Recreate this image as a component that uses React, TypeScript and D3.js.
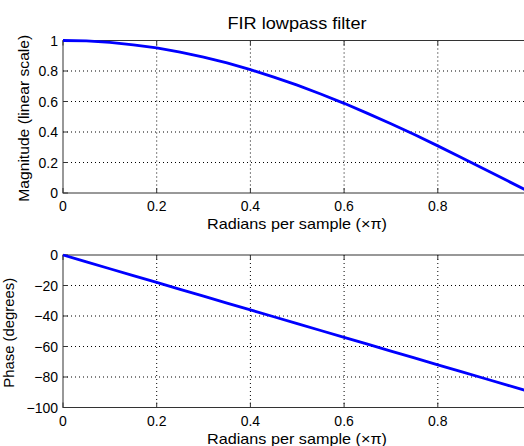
import React from "react";
import * as d3 from "d3";

const freq = [0, 0.05, 0.1, 0.15, 0.2, 0.25, 0.3, 0.35, 0.4, 0.45, 0.5, 0.55, 0.6, 0.65, 0.7, 0.75, 0.8, 0.85, 0.9, 0.95, 1.0];
const magnitude = [1, 0.997, 0.988, 0.972, 0.951, 0.924, 0.891, 0.853, 0.809, 0.76, 0.707, 0.649, 0.588, 0.522, 0.454, 0.383, 0.309, 0.233, 0.156, 0.078, 0.0];
const phase = [0, -4.5, -9, -13.5, -18, -22.5, -27, -31.5, -36, -40.5, -45, -49.5, -54, -58.5, -63, -67.5, -72, -76.5, -81, -85.5, -90];
const xTicks = [0, 0.2, 0.4, 0.6, 0.8];
const magTicks = [0, 0.2, 0.4, 0.6, 0.8, 1];
const phaseTicks = [-100, -80, -60, -40, -20, 0];

const W = 524, H = 446;
const left = 63, right = 531.5;
const FONT = "'Liberation Sans', Arial, Helvetica, sans-serif";

function Panel({ top, bottom, yDomain, yTicks, values, yLabel, yLabelX, yLabelLen, fmt }) {
  const x = d3.scaleLinear().domain([0, 1]).range([left, right]);
  const y = d3.scaleLinear().domain(yDomain).range([bottom, top]);
  const line = d3.line().x((d) => x(d[0])).y((d) => y(d[1]));
  const pts = freq.map((f, i) => [f, values[i]]);
  return (
    <g>
      {xTicks.filter((t) => t > 0).map((t) => (
        <line key={"gx" + t} x1={x(t)} x2={x(t)} y1={top} y2={bottom} stroke="#000" strokeWidth={1} strokeDasharray="1,3" />
      ))}
      {yTicks.filter((t) => t !== yDomain[0] && t !== yDomain[1]).map((t) => (
        <line key={"gy" + t} x1={left} x2={right} y1={y(t)} y2={y(t)} stroke="#000" strokeWidth={1} strokeDasharray="1,3" />
      ))}
      <rect x={left} y={top} width={right - left} height={bottom - top} fill="none" stroke="#333" strokeWidth={1} />
      {xTicks.map((t) => (
        <g key={"tx" + t}>
          <line x1={x(t)} x2={x(t)} y1={bottom} y2={bottom - 5} stroke="#333" />
          <line x1={x(t)} x2={x(t)} y1={top} y2={top + 5} stroke="#333" />
          <text x={x(t)} y={bottom + 18} textAnchor="middle" fontSize={14} fontFamily={FONT} fill="#000">{t === 0 ? "0" : d3.format(".1f")(t)}</text>
        </g>
      ))}
      {yTicks.map((t) => (
        <g key={"ty" + t}>
          <line x1={left} x2={left + 5} y1={y(t)} y2={y(t)} stroke="#333" />
          <text x={left - 5} y={y(t) + 5} textAnchor="end" fontSize={14} fontFamily={FONT} fill="#000">{fmt(t)}</text>
        </g>
      ))}
      <path d={line(pts) || ""} fill="none" stroke="#0000ff" strokeWidth={2.8} />
      <text x={297} y={bottom + 36} textAnchor="middle" fontSize={15} fontFamily={FONT} fill="#000" textLength={180} lengthAdjust="spacingAndGlyphs">Radians per sample (×π)</text>
      <text transform={`translate(${yLabelX},${(top + bottom) / 2 + 1.5}) rotate(-90)`} textAnchor="middle" fontSize={15.5} fontFamily={FONT} fill="#000" textLength={yLabelLen} lengthAdjust="spacingAndGlyphs">{yLabel}</text>
    </g>
  );
}

export default function App() {
  return (
    <svg width={W} height={H} style={{ position: "absolute", left: 0, top: 0, background: "#fff" }}>
      <rect width={W} height={H} fill="#fff" />
      <text x={297} y={28.5} textAnchor="middle" fontSize={16.5} fontFamily={FONT} fill="#000" textLength={139} lengthAdjust="spacingAndGlyphs">FIR lowpass filter</text>
      <Panel top={40.5} bottom={193} yDomain={[0, 1]} yTicks={magTicks} values={magnitude} yLabel="Magnitude (linear scale)" yLabelX={29} yLabelLen={167} fmt={(t) => (t === 0 || t === 1 ? String(t) : d3.format(".1f")(t))} />
      <Panel top={255} bottom={407.5} yDomain={[-100, 0]} yTicks={phaseTicks} values={phase} yLabel="Phase (degrees)" yLabelX={14} yLabelLen={110} fmt={(t) => String(t).replace("-", "\u2212")} />
    </svg>
  );
}
